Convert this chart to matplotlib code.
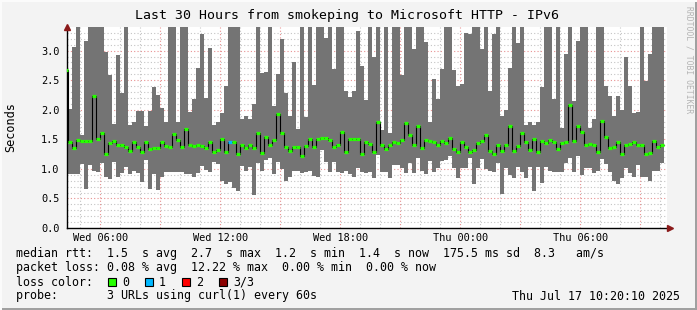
"""
Smokeping-style graph: last 30 hours, smoke band + median rtt.
"""
from datetime import datetime, timedelta
import numpy as np
import matplotlib
matplotlib.use("Agg")
import matplotlib.pyplot as plt
import matplotlib.dates as mdates
from matplotlib.patches import Rectangle

# ---- data (seconds), one value per 12-minute step ----
first_step = datetime(2025, 7, 16, 4, 11, 10)
step_minutes = 12

smoke_top = [
    3.19, 2.02, 3.07, 3.5, 1.58, 3.17, 3.5, 3.5, 3.5, 3.5,
    2.97, 2.59, 1.76, 2.93, 2.28, 3.5, 1.75, 1.80, 1.98, 1.98,
    1.72, 1.98, 2.39, 2.25, 2.03, 1.80, 3.5, 3.5, 1.80, 3.5,
    3.5, 1.97, 2.19, 2.71, 3.29, 2.20, 3.05, 1.75, 1.80, 1.95,
    2.41, 3.5, 3.5, 3.5, 1.85, 1.90, 1.85, 2.10, 3.5, 2.63,
    2.64, 3.5, 2.07, 2.61, 3.19, 2.29, 1.90, 2.80, 1.68, 3.5,
    1.88, 3.5, 2.42, 3.5, 3.5, 3.22, 3.5, 2.69, 3.5, 3.5,
    2.31, 2.22, 2.31, 3.34, 2.74, 2.17, 3.5, 2.90, 3.5, 1.65,
    3.5, 1.60, 3.5, 3.5, 2.59, 3.5, 3.5, 3.03, 3.5, 3.5,
    3.15, 1.80, 2.52, 2.19, 2.69, 3.5, 3.5, 2.68, 2.41, 2.44,
    3.30, 3.28, 3.5, 3.5, 3.03, 3.5, 2.31, 3.29, 3.5, 1.89,
    2.00, 2.70, 3.5, 3.13, 3.5, 1.75, 1.80, 1.75, 1.80, 2.38,
    3.5, 3.5, 2.19, 3.5, 1.70, 2.94, 3.5, 2.14, 3.16, 3.5,
    3.5, 1.70, 1.85, 3.5, 3.5, 2.41, 2.24, 1.89, 2.23, 2.00,
    2.90, 2.40, 1.95, 1.97, 3.5, 2.48, 2.95, 3.5, 3.5, 3.5,
]
smoke_bottom = [
    0.90, 0.91, 0.92, 0.91, 1.08, 0.66, 1.07, 0.97, 0.95, 1.10,
    0.87, 0.83, 1.12, 0.87, 0.93, 1.04, 0.91, 0.97, 0.93, 0.77,
    1.15, 0.66, 0.92, 0.64, 0.87, 0.95, 0.95, 0.94, 0.95, 0.95,
    0.92, 0.92, 0.87, 0.93, 1.05, 0.98, 0.94, 1.12, 1.08, 0.80,
    0.74, 0.78, 0.67, 0.63, 1.05, 0.97, 1.03, 0.56, 1.10, 0.96,
    1.15, 1.18, 0.92, 1.12, 1.00, 0.80, 0.87, 0.97, 0.97, 0.93,
    0.95, 0.97, 0.88, 0.87, 1.32, 1.12, 0.95, 1.11, 0.95, 0.93,
    0.97, 0.91, 0.86, 1.01, 0.94, 0.93, 0.94, 0.85, 1.24, 0.94,
    0.94, 0.85, 1.07, 1.07, 1.01, 0.93, 1.10, 0.93, 1.18, 0.97,
    0.92, 1.13, 0.95, 1.01, 1.13, 1.15, 1.21, 1.01, 0.84, 1.02,
    1.02, 1.18, 0.74, 1.01, 1.16, 1.00, 0.97, 0.94, 1.10, 0.58,
    1.01, 0.90, 0.85, 1.04, 0.95, 0.85, 1.03, 0.62, 1.04, 0.76,
    1.03, 0.97, 0.94, 0.95, 0.95, 1.10, 1.19, 0.94, 1.21, 0.90,
    1.02, 1.02, 0.93, 0.97, 1.17, 1.08, 0.95, 0.79, 0.74, 0.84,
    1.01, 0.93, 0.87, 1.07, 0.87, 0.87, 0.80, 0.97, 0.97, 1.10,
]
median_rtt = [
    2.67, 1.45, 1.36, 1.49, 1.47, 1.47, 1.47, 2.24, 1.51, 1.60,
    1.25, 1.44, 1.47, 1.40, 1.41, 1.37, 1.31, 1.45, 1.37, 1.29,
    1.46, 1.33, 1.36, 1.36, 1.46, 1.38, 1.37, 1.59, 1.49, 1.37,
    1.67, 1.41, 1.39, 1.40, 1.39, 1.36, 1.46, 1.28, 1.32, 1.50,
    1.29, 1.46, 1.45, 1.26, 1.41, 1.36, 1.41, 1.36, 1.60, 1.27,
    1.54, 1.40, 1.49, 1.92, 1.60, 1.37, 1.30, 1.37, 1.37, 1.21,
    1.39, 1.51, 1.37, 1.50, 1.52, 1.53, 1.49, 1.37, 1.40, 1.63,
    1.29, 1.50, 1.50, 1.50, 1.26, 1.46, 1.42, 1.28, 1.79, 1.41,
    1.33, 1.41, 1.46, 1.44, 1.49, 1.77, 1.58, 1.40, 1.73, 1.36,
    1.49, 1.47, 1.45, 1.41, 1.47, 1.44, 1.52, 1.34, 1.29, 1.45,
    1.37, 1.29, 1.32, 1.43, 1.48, 1.57, 1.31, 1.25, 1.40, 1.31,
    1.40, 1.73, 1.31, 1.39, 1.61, 1.45, 1.32, 1.50, 1.28, 1.47,
    1.43, 1.49, 1.45, 1.33, 1.44, 1.46, 2.08, 1.47, 1.73, 1.62,
    1.41, 1.42, 1.41, 1.28, 1.81, 1.54, 1.35, 1.37, 1.46, 1.25,
    1.40, 1.42, 1.46, 1.40, 1.41, 1.25, 1.27, 1.47, 1.37, 1.41,
]
# lost pings per step (out of 3)
loss = [0] * 150
loss[41] = 1

loss_colors = {0: "#26ff00", 1: "#00b8ff", 2: "#ff0000", 3: "#8b0000"}
loss_labels = ["0", "1", "2", "3/3"]

t_start = datetime(2025, 7, 16, 4, 20, 10)
t_end = datetime(2025, 7, 17, 10, 20, 10)

title = "Last 30 Hours from smokeping to Microsoft HTTP - IPv6"
line_rtt = ("median rtt:  1.5  s avg  2.7  s max  1.2  s min  1.4  s now"
            "  175.5 ms sd  8.3   am/s")
line_loss = "packet loss: 0.08 % avg  12.22 % max  0.00 % min  0.00 % now"
line_probe = "probe:       3 URLs using curl(1) every 60s"
stamp = "Thu Jul 17 10:20:10 2025"

# ---- figure ----
W, H = 697, 310
MONO = "DejaVu Sans Mono"
BG = "#f3f3f3"
GRID_MINOR = "#c4c4c4"
GRID_MAJOR = "#e89090"
ARROW = "#8b1a1a"

fig = plt.figure(figsize=(W / 100, H / 100), dpi=100, facecolor=BG)
ax = fig.add_axes([67 / W, (H - 228) / H, 600 / W, 201 / H], facecolor="white")

edges = mdates.date2num([first_step + timedelta(minutes=step_minutes * i)
                         for i in range(len(smoke_top) + 1)])
top = np.array(smoke_top)
bot = np.array(smoke_bottom)
med = np.array(median_rtt)

ax.stairs(top, edges, baseline=bot, fill=True, color="#747474", lw=0, zorder=2)
ax.stairs(med, edges, baseline=None, color="black", lw=0.8, zorder=4)
ax.hlines(med, edges[:-1], edges[1:], colors=[loss_colors[l] for l in loss],
          lw=2.3, zorder=5, capstyle="butt")

ax.set_xlim(mdates.date2num(t_start), mdates.date2num(t_end))
ax.set_ylim(0, 3.4)

# dotted grid under the smoke
dots = (0, (1, 2))
for y in np.arange(0.1, 3.4, 0.1):
    major = abs(y / 0.5 - round(y / 0.5)) < 1e-6
    ax.axhline(y, color=GRID_MAJOR if major else GRID_MINOR, lw=0.8,
               ls=dots, zorder=1)
t = datetime(2025, 7, 16, 5, 0)
while t < t_end:
    ax.axvline(mdates.date2num(t), color=GRID_MAJOR if t.hour % 3 == 0 else GRID_MINOR,
               lw=0.8, ls=dots, zorder=1)
    t += timedelta(hours=1)

ax.xaxis.set_major_locator(mdates.HourLocator(byhour=[0, 6, 12, 18]))
ax.xaxis.set_major_formatter(mdates.DateFormatter("%a %H:%M"))
ax.set_yticks(np.arange(0, 3.01, 0.5))
ax.yaxis.set_major_formatter(matplotlib.ticker.FormatStrFormatter("%.1f"))
ax.tick_params(axis="x", length=0, pad=3.5, labelsize=7.4)
ax.tick_params(axis="y", length=0, pad=5.5, labelsize=7.4)
for lab in ax.get_xticklabels() + ax.get_yticklabels():
    lab.set_family(MONO)

for s in ["top", "right", "bottom"]:
    ax.spines[s].set_visible(False)
ax.spines["left"].set_color("black")
ax.spines["left"].set_linewidth(1)
ax.plot([0, 1.005], [0, 0], color="black", lw=1, transform=ax.transAxes,
        clip_on=False, zorder=6)
ax.plot([1.005], [0], marker=">", ms=5, color=ARROW, mec=ARROW,
        transform=ax.transAxes, clip_on=False, zorder=7)
ax.plot([0], [1.0], marker="^", ms=5, color=ARROW, mec=ARROW,
        transform=ax.transAxes, clip_on=False, zorder=7)

ax.set_ylabel("Seconds", family=MONO, fontsize=8.6, labelpad=17)

# texts
fig.text(347 / W, 1 - 15 / H, title, family=MONO, fontsize=9.5,
         ha="center", va="center")
fig.text(689 / W, 1 - 60 / H, "RRDTOOL / TOBI OETIKER", family=MONO,
         fontsize=5.8, rotation=270, color="#b4b4b4", ha="center", va="center")

x0 = 16 / W
fs = 8.4
fig.text(x0, 1 - 254 / H, line_rtt, family=MONO, fontsize=fs, va="center")
fig.text(x0, 1 - 268 / H, line_loss, family=MONO, fontsize=fs, va="center")
fig.text(x0, 1 - 282 / H, "loss color:", family=MONO, fontsize=fs, va="center")
fig.text(x0, 1 - 296 / H, line_probe, family=MONO, fontsize=fs, va="center")
fig.text(680 / W, 1 - 296 / H, stamp, family=MONO, fontsize=fs,
         ha="right", va="center")

for i, lab in enumerate(loss_labels):
    sx = 108 + 37 * i
    fig.patches.append(Rectangle((sx / W, 1 - 286 / H), 8 / W, 8 / H,
                                 transform=fig.transFigure, facecolor=loss_colors[i],
                                 edgecolor="black", lw=0.8))
    fig.text((sx + 14) / W, 1 - 282 / H, lab, family=MONO, fontsize=fs, va="center")

# bevelled frame
fig.patches.append(Rectangle((0, 0), 1, 2.5 / H, transform=fig.transFigure,
                             facecolor="#a0a0a0", lw=0))
fig.patches.append(Rectangle((1 - 2.5 / W, 0), 2.5 / W, 1, transform=fig.transFigure,
                             facecolor="#a0a0a0", lw=0))
fig.patches.append(Rectangle((0, 1 - 2 / H), 1, 2 / H, transform=fig.transFigure,
                             facecolor="#fbfbfb", lw=0))
fig.patches.append(Rectangle((0, 0), 2 / W, 1, transform=fig.transFigure,
                             facecolor="#fbfbfb", lw=0))

fig.savefig("out.png", dpi=100, facecolor=BG)
